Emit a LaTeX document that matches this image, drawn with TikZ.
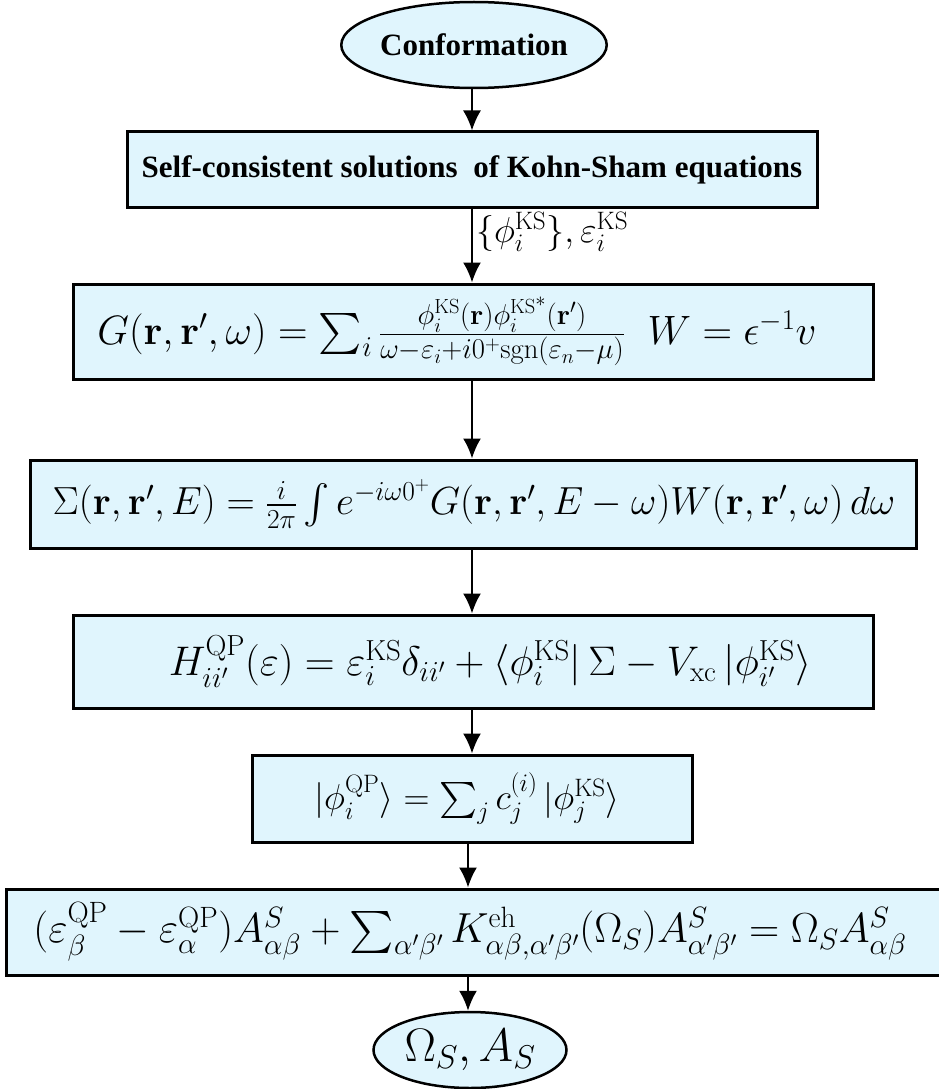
\RequirePackage{fix-cm}
\documentclass[tikz,border=0pt]{standalone}
\usepackage{amsmath}
\usepackage[no-math]{fontspec}
\DeclareFontFamily{OMX}{cmex}{}
\DeclareFontShape{OMX}{cmex}{m}{n}{<->cmex10}{}
\newfontfamily\tnr{Liberation Serif}
\usetikzlibrary{shapes.geometric,arrows.meta}
\definecolor{boxfill}{RGB}{224,245,253}
\begin{document}
\begin{tikzpicture}[x=1pt,y=-1pt,
  box/.style={draw=black,line width=3pt,fill=boxfill,inner sep=0pt},
  oval/.style={ellipse,draw=black,line width=2.5pt,fill=boxfill,inner sep=0pt},
  arr/.style={line width=2pt,-{Latex[length=20pt,width=18pt]}},
  mtxt/.style={inner sep=0pt,font=\fontsize{#1}{#1}\selectfont},
  mtxt/.default=40,
  btxt/.style={font=\fontsize{31}{37}\selectfont\tnr\bfseries}]
\useasboundingbox (0,0) rectangle (938,1089);
% nodes
\node[oval,btxt,minimum width=226pt,minimum height=86pt] (conf) at (474,45) {Conformation};
\node[box,btxt,minimum width=690pt,minimum height=75pt] (b2) at (472,169.5) {Self-consistent solutions\ \ of Kohn-Sham equations};
\node[box,minimum width=800pt,minimum height=95pt] (b3) at (473,331.5) {};
\node[mtxt=41] (t3) at (457,331.5) {$G(\mathbf{r},\mathbf{r}',\omega)=\sum_i\frac{\phi_i^{\mathrm{KS}}(\mathbf{r})\phi_i^{\mathrm{KS}^*}(\mathbf{r}')}{\omega-\varepsilon_i+i0^+\mathrm{sgn}(\varepsilon_n-\mu)}\;\;W=\epsilon^{-1}v$};
\node[box,minimum width=886pt,minimum height=88pt] (b4) at (473,504) {};
\node[mtxt=39.2] (t4) at (474,504) {$\Sigma(\mathbf{r},\mathbf{r}',E)=\frac{i}{2\pi}\int e^{-i\omega0^+}G(\mathbf{r},\mathbf{r}',E-\omega)W(\mathbf{r},\mathbf{r}',\omega)\,d\omega$};
\node[box,minimum width=800pt,minimum height=93pt] (b5) at (473,661.5) {};
\node[mtxt=41.4] (t5) at (490,661.5) {$H_{ii'}^{\mathrm{QP}}(\varepsilon)=\varepsilon_i^{\mathrm{KS}}\delta_{ii'}+\langle\phi_i^{\mathrm{KS}}|\,\Sigma-V_{\mathrm{xc}}\,|\phi_{i'}^{\mathrm{KS}}\rangle$};
\node[box,minimum width=440pt,minimum height=87pt] (b6) at (472,798.5) {};
\node[mtxt=36] (t6) at (467,798.5) {$|\phi_i^{\mathrm{QP}}\rangle=\sum_j c_j^{(i)}\,|\phi_j^{\mathrm{KS}}\rangle$};
\node[box,minimum width=940pt,minimum height=86pt] (b7) at (476,932) {};
\node[mtxt=42] (t7) at (470,932) {$(\varepsilon_\beta^{\mathrm{QP}}-\varepsilon_\alpha^{\mathrm{QP}})A^S_{\alpha\beta}+\sum_{\alpha'\beta'}K^{\mathrm{eh}}_{\alpha\beta,\alpha'\beta'}(\Omega_S)A^S_{\alpha'\beta'}=\Omega_SA^S_{\alpha\beta}$};
\node[oval,mtxt=47,minimum width=193pt,minimum height=76pt] (res) at (470,1050) {$\Omega_S,A_S$};
% connectors
\draw[arr] (b2.north |- conf.south) -- (b2.north);
\draw[arr] (b2.south) -- node[right,inner sep=3pt,font=\fontsize{36}{42}\selectfont,pos=0.32] (lab) {$\{\phi_i^{\mathrm{KS}}\},\varepsilon_i^{\mathrm{KS}}$} (b2.south |- b3.north);
\draw[arr] (b3.south -| b2.south) -- (b4.north -| b2.south);
\draw[arr] (b4.south -| b2.south) -- (b5.north -| b2.south);
\draw[arr] (b5.south -| b2.south) -- (b6.north -| b2.south);
\draw[arr] ([xshift=-4pt]b6.south) -- ([xshift=-4pt]b6.south |- b7.north);
\draw[arr] ([xshift=-4pt]b6.south |- b7.south) -- ([xshift=-4pt]b6.south |- res.north);
\end{tikzpicture}
\end{document}
